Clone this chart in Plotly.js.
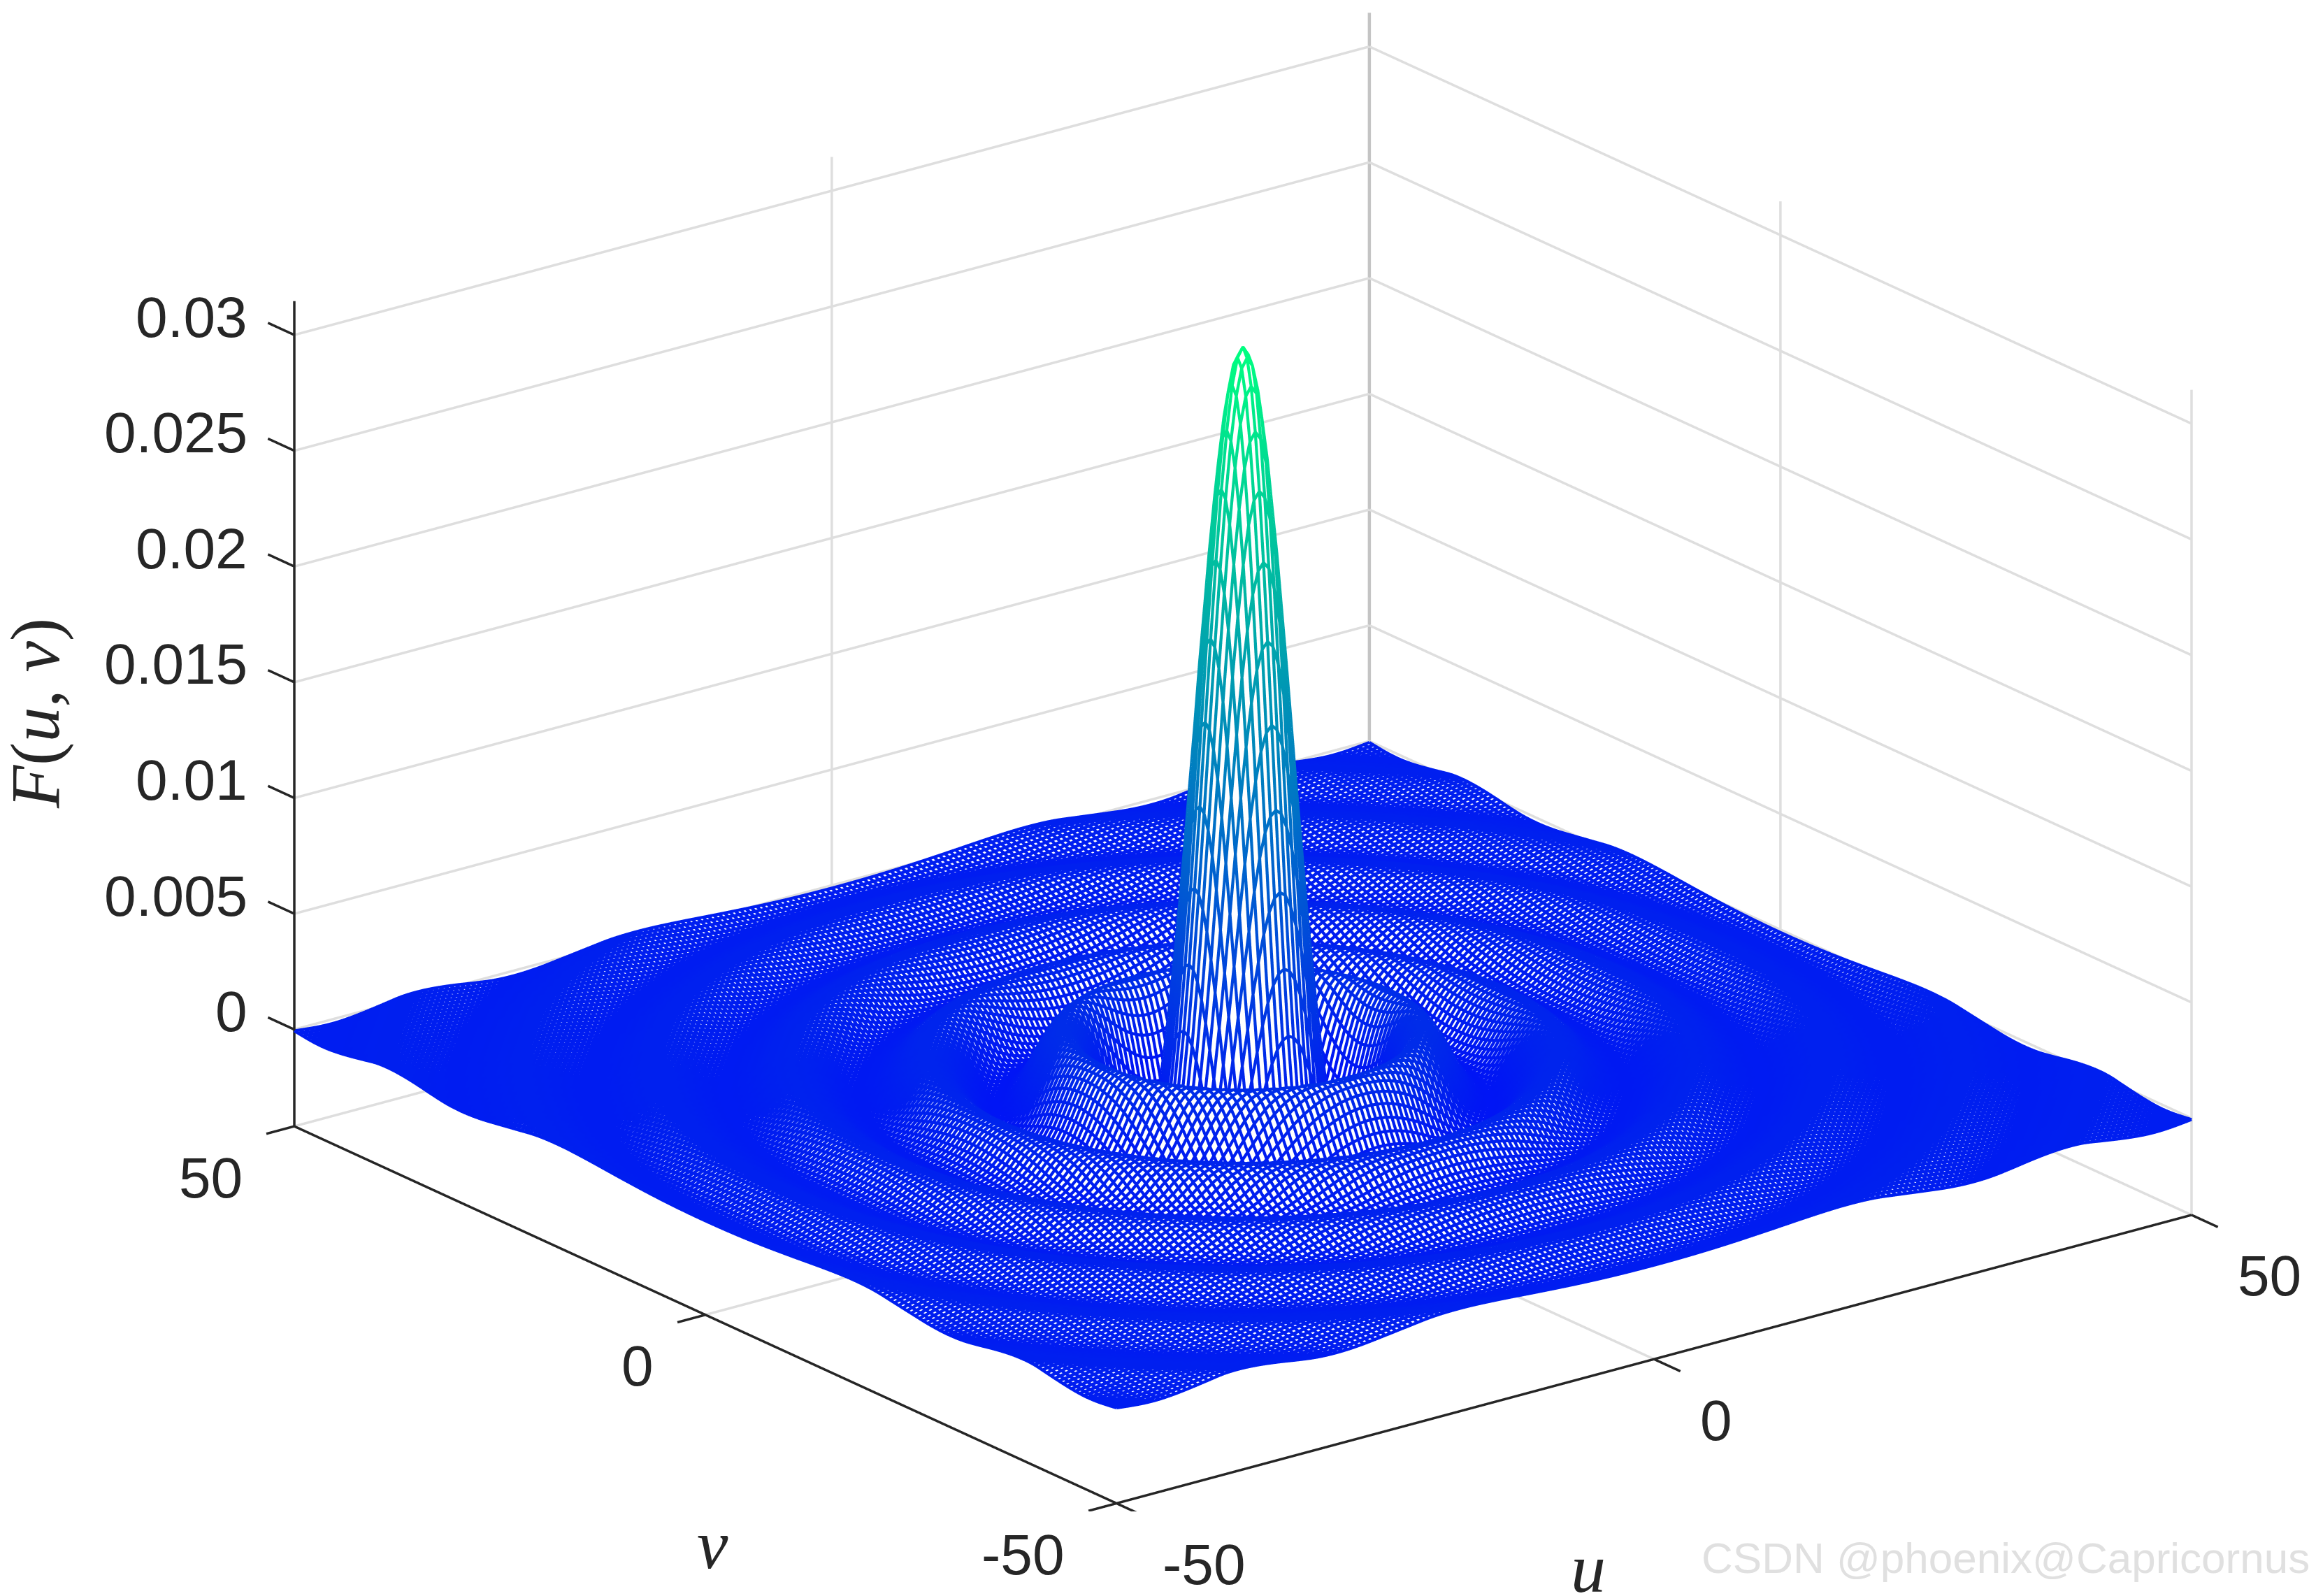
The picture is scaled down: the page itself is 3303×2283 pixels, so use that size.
<!DOCTYPE html>
<html><head><meta charset="utf-8">
<script src="https://cdn.plot.ly/plotly-3.0.1.min.js"></script>
<style>html,body{margin:0;padding:0;background:#fff}</style></head>
<body><div id="g" style="width:3303px;height:2283px"></div>
<script>
// Radial profile of the surface: F at distance r = 0,1,2,... from the centre
const profileRadius = [0,1,2,3,4,5,6,7,8,9,10,11,12,13,14,15,16,17,18,19,20,21,22,23,24,25,26,27,28,29,30,31,32,33,34,35,36,37,38,39,40,41,42,43,44,45,46,47,48,49,50,51,52,53,54,55,56,57,58,59,60,61,62,63,64,65,66,67,68,69,70,71,72];
const profileValue = [0.0314,0.02986,0.02549,0.01916,0.01204,0.00534,0.00014,-0.00308,-0.00415,-0.00352,-0.0019,-0.00007,0.00133,0.00198,0.0018,0.00104,0.00002,-0.00087,-0.00126,-0.00115,-0.00065,0.00002,0.00055,0.00086,0.0008,0.00046,-0.00006,-0.00044,-0.00065,-0.0006,-0.00034,0.00004,0.00034,0.00051,0.00048,0.00027,-0.00004,-0.0003,-0.00042,-0.00038,-0.0002,0.00003,0.00025,0.00035,0.00032,0.00015,-0.00005,-0.00023,-0.0003,-0.00027,-0.00012,0.00005,0.00019,0.00026,0.00023,0.00009,-0.00005,-0.00017,-0.00022,-0.00019,-0.00008,0.00005,0.00015,0.0002,0.00018,0.00007,-0.00004,-0.00013,-0.00018,-0.00017,-0.00011,-0.00003,0.00008];
const meshStep = 0.5;
const uRange = [-50,50];
const vRange = [-50,50];
const zRange = [-0.00418,0.03146];
const uTicks = [-50,0,50];
const vTicks = [-50,0,50];
const zTicks = [0,0.005,0.01,0.015,0.02,0.025,0.03];
const zTickLabels = ['0','0.005','0.01','0.015','0.02','0.025','0.03'];
const uvTickLabels = ['-50','0','50'];
const INK='#262626', GRID='#dedede', EDGE='#c4c4c4';
const C=[-0.569,-0.744,0.3508];  // viewing direction
const D=3;
const SC=1.791;
const ZASP=0.651;
const ASP={x:1.2*SC,y:1.2*SC,z:SC*(0.0389/(zRange[1]-zRange[0]))*ZASP};

function F(r){
  let i=Math.min(Math.floor(r),profileValue.length-2);
  const t=r-i, p=profileValue;
  const a=p[Math.max(i-1,0)], b=p[i], c=p[i+1], d=p[Math.min(i+2,p.length-1)];
  const a2 = i===0 ? c : a;  // the profile is even about r=0
  return 0.5*((2*b)+(-a2+c)*t+(2*a2-5*b+4*c-d)*t*t+(-a2+3*b-3*c+d)*t*t*t);
}
const axisU=[],axisV=[];
for(let k=0;k<=200;k++){axisU.push(uRange[0]+k*meshStep);axisV.push(vRange[0]+k*meshStep);}
const Z=axisV.map(v=>axisU.map(u=>F(Math.hypot(u,v))));

// mesh lines
const mx=[],my=[],mz=[];
axisV.forEach((v,j)=>{axisU.forEach((u,i)=>{mx.push(u);my.push(v);mz.push(Z[j][i]);});mx.push(NaN);my.push(NaN);mz.push(NaN);});
axisU.forEach((u,i)=>{axisV.forEach((v,j)=>{mx.push(u);my.push(v);mz.push(Z[j][i]);});mx.push(NaN);my.push(NaN);mz.push(NaN);});

// depth-only offsets along the viewing direction: they do not move anything on screen
const backX=d=>-d*C[0]*100, backY=d=>-d*C[1]*100, backZ=d=>-d*C[2]*(zRange[1]-zRange[0])/ZASP;
// white hidden-line body: same surface pushed slightly away from the camera
const dl=0.005;
const sx=axisU.map(u=>u+backX(dl)), sy=axisV.map(v=>v+backY(dl));
const sz=Z.map(row=>row.map(z=>z+backZ(dl)));

const seg=(a,b,arr)=>{arr.x.push(a[0],b[0],NaN);arr.y.push(a[1],b[1],NaN);arr.z.push(a[2],b[2],NaN);};
const grid={x:[],y:[],z:[]},edge={x:[],y:[],z:[]},ink={x:[],y:[],z:[]};
const [u0,u1]=uRange,[v0,v1]=vRange,[z0,z1]=zRange;
zTicks.forEach(t=>{seg([u0,v1,t],[u1,v1,t],grid);seg([u1,v1,t],[u1,v0,t],grid);});
seg([u0,v1,z0],[u1,v1,z0],grid);seg([u1,v1,z0],[u1,v0,z0],grid);
seg([0,v1,z0],[0,v1,z1],grid);seg([u1,0,z0],[u1,0,z1],grid);
seg([0,v0,z0],[0,v1,z0],grid);seg([u0,0,z0],[u1,0,z0],grid);
seg([u1,v0,z0],[u1,v0,z1],grid);
seg([u1,v1,z0],[u1,v1,z1],edge);
seg([u0,v1,z0],[u0,v1,z1],ink);seg([u0,v0,z0],[u0,v1,z0],ink);seg([u0,v0,z0],[u1,v0,z0],ink);
zTicks.forEach(t=>seg([u0,v1,t],[u0,v1+3.2,t],ink));
vTicks.forEach(t=>seg([u0,t,z0],[u0-2.6,t,z0],ink));
uTicks.forEach(t=>seg([t,v0,z0],[t,v0-3.2,z0],ink));

const lineTrace=(a,color,w,d)=>({type:'scatter3d',mode:'lines',
  x:a.x.map(q=>q+backX(d)),y:a.y.map(q=>q+backY(d)),z:a.z.map(q=>q+backZ(d)),
  line:{color:color,width:w},hoverinfo:'skip',showlegend:false,connectgaps:false});
const data=[
 {type:'surface',x:sx,y:sy,z:sz,colorscale:[[0,'#ffffff'],[1,'#ffffff']],showscale:false,hoverinfo:'skip',
  lighting:{ambient:1,diffuse:0,specular:0,roughness:1,fresnel:0},contours:{x:{show:false},y:{show:false},z:{show:false}}},
 lineTrace(grid,GRID,7,0.015),lineTrace(edge,EDGE,9,0.015),lineTrace(ink,INK,7,0),
 {type:'scatter3d',mode:'lines',x:mx,y:my,z:mz,connectgaps:false,hoverinfo:'skip',showlegend:false,
  line:{width:8.5,color:mz,cmin:zRange[0],cmax:zRange[1],colorscale:[[0,'rgb(0,0,255)'],[1,'rgb(0,255,128)']],showscale:false}}
];
const tf={family:'Liberation Sans, Arial, sans-serif',size:82,color:INK};
const ann=[];
zTicks.forEach((t,i)=>ann.push({x:u0,y:v1,z:t,text:zTickLabels[i],showarrow:false,xanchor:'right',yanchor:'middle',xshift:-65,yshift:26,font:tf}));
vTicks.forEach((t,i)=>ann.push({x:u0,y:t,z:z0,text:uvTickLabels[i],showarrow:false,xanchor:'right',yanchor:'middle',xshift:-72,yshift:-73,font:tf}));
uTicks.forEach((t,i)=>ann.push({x:t,y:v0,z:z0,text:uvTickLabels[i],showarrow:false,xanchor:'left',yanchor:'middle',xshift:64,yshift:-87,font:tf}));
const hide={visible:false,showgrid:false,zeroline:false,showline:false,showticklabels:false,showspikes:false,showbackground:false,ticks:''};
const W=3303,H=2283;
const tit=(t,x,y,a)=>({xref:'paper',yref:'paper',x:x/W,y:1-y/H,text:t,showarrow:false,textangle:a||0,xanchor:'center',yanchor:'middle',
   font:{family:'Liberation Serif, serif',size:100,color:INK}});
const layout={width:W,height:H,margin:{l:0,r:0,t:0,b:0},paper_bgcolor:'#fff',showlegend:false,
 scene:{domain:{x:[253/W,1],y:[1-2162/H,1]},aspectmode:'manual',aspectratio:ASP,
  camera:{projection:{type:'orthographic'},eye:{x:D*C[0],y:D*C[1],z:D*C[2]+0.003},center:{x:0,y:0,z:0.003},up:{x:0,y:0,z:1}},
  xaxis:Object.assign({range:[-60,60]},hide),yaxis:Object.assign({range:[-60,60]},hide),zaxis:Object.assign({range:[-0.0058,0.0331]},hide),
  annotations:ann,bgcolor:'#fff',dragmode:false},
 annotations:[
  tit('<i>F</i>(<i>u</i>, <i>v</i>)',50,1021,-90),tit('<i>u</i>',2272,2243),tit('<i>v</i>',1019,2209),
  {xref:'paper',yref:'paper',x:2432/W,y:1-2228/H,xanchor:'left',yanchor:'middle',showarrow:false,text:'CSDN @phoenix@Capricornus',
   font:{family:'Liberation Sans, Arial, sans-serif',size:62,color:'#e0e0e0'}}
 ]};
Plotly.newPlot('g',data,layout,{displayModeBar:false,responsive:false});
</script></body></html>
